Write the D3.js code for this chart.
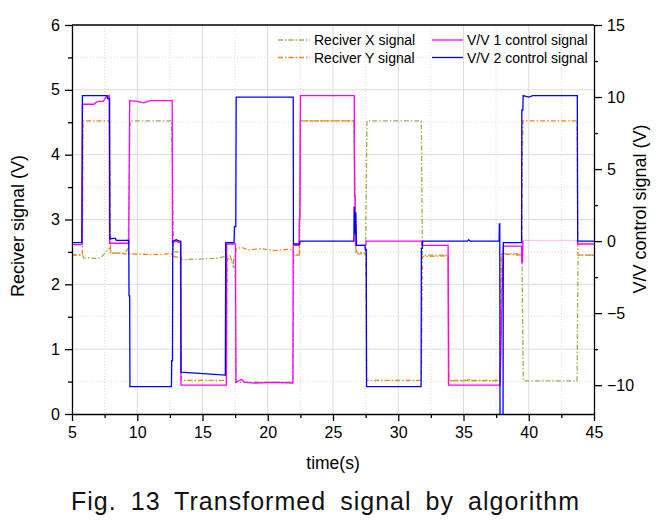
<!DOCTYPE html>
<html>
<head>
<meta charset="utf-8">
<script src="https://cdn.jsdelivr.net/npm/d3@7"></script>
<style>
  body { margin: 0; background: #fff; }
  svg { display: block; font-family: "Liberation Sans", Arial, sans-serif; }
</style>
</head>
<body>
<svg id="chart" width="662" height="526"></svg>
<script>
// ---- data (time in s, values in V) ----
const xTicks = [5, 10, 15, 20, 25, 30, 35, 40, 45];
const xMinor = [7.5, 12.5, 17.5, 22.5, 27.5, 32.5, 37.5, 42.5];
const yLeftTicks = [0, 1, 2, 3, 4, 5, 6];
const yLeftMinor = [0.5, 1.5, 2.5, 3.5, 4.5, 5.5];
const yRightTicks = [-10, -5, 0, 5, 10, 15];
const yRightMinor = [-7.5, -2.5, 2.5, 7.5, 12.5];

const seriesNames = ["Reciver X signal", "Reciver Y signal", "V/V 1 control signal", "V/V 2 control signal"];

// Reciver X signal (left axis)
const tX = [5.0, 5.8, 5.9, 7.0, 7.3, 7.6, 7.85, 8.1, 9.0, 9.3, 9.45, 12.62, 12.72, 12.78, 13.3, 13.4, 16.0, 16.8, 17.1, 17.35, 17.5, 17.58, 21.93, 22.0, 22.42, 22.5, 26.6, 26.75, 27.5, 27.6, 31.77, 31.85, 33.82, 33.88, 37.78, 37.9, 39.48, 39.58, 43.7, 43.78, 45.0];
const vX = [2.45, 2.45, 2.41, 2.40, 2.43, 2.50, 2.56, 2.48, 2.48, 2.55, 4.52, 4.52, 3.5, 2.50, 2.50, 2.38, 2.40, 2.43, 2.45, 2.27, 2.27, 0.49, 0.49, 2.45, 2.45, 4.52, 4.52, 2.47, 2.47, 4.52, 4.52, 2.45, 2.45, 0.51, 0.51, 2.47, 2.47, 0.51, 0.51, 2.45, 2.45];

// Reciver Y signal (left axis)
const tY = [5.0, 5.8, 5.85, 7.88, 7.95, 8.4, 9.0, 11.5, 12.6, 12.9, 13.3, 13.38, 16.83, 16.9, 17.2, 17.35, 17.6, 18.0, 18.5, 19.5, 20.5, 21.5, 21.9, 22.0, 22.42, 22.5, 26.6, 26.7, 26.78, 27.5, 27.58, 31.77, 31.85, 33.82, 33.88, 35.3, 35.4, 35.5, 37.78, 37.85, 37.95, 39.48, 39.5, 39.56, 43.7, 43.77, 45.0];
const vY = [2.45, 2.46, 4.52, 4.52, 2.47, 2.49, 2.47, 2.46, 2.47, 2.42, 2.42, 0.52, 0.52, 2.40, 2.38, 2.33, 2.55, 2.57, 2.53, 2.55, 2.52, 2.54, 2.53, 2.45, 2.45, 4.52, 4.52, 3.2, 2.50, 2.48, 0.52, 0.52, 2.43, 2.44, 0.52, 0.52, 0.55, 0.52, 0.52, 0.9, 2.47, 2.45, 3.9, 4.52, 4.52, 2.45, 2.45];

// V/V 1 control signal (right axis)
const t1 = [5.0, 5.78, 5.8, 6.7, 6.8, 7.0, 7.4, 7.6, 7.85, 7.88, 9.35, 9.37, 9.42, 10.0, 10.5, 11.0, 12.68, 12.7, 13.0, 13.2, 13.33, 13.35, 16.83, 16.85, 17.53, 17.56, 18.0, 18.2, 19.0, 20.5, 21.93, 21.95, 22.4, 22.42, 22.47, 22.5, 26.63, 26.65, 26.7, 26.72, 27.5, 27.55, 31.77, 31.8, 33.82, 33.85, 37.78, 37.8, 38.05, 39.45, 39.47, 39.52, 39.55, 43.72, 43.75, 45.0];
const v1 = [-0.25, -0.25, 9.5, 9.5, 9.6, 9.7, 9.7, 10.0, 10.1, -0.15, -0.15, 3.0, 9.75, 9.7, 9.6, 9.75, 9.75, -0.1, 0.0, -0.1, -0.1, -10.0, -10.0, -0.2, -0.2, -9.8, -9.6, -9.8, -9.85, -9.8, -9.85, -0.3, -0.3, 1.6, 1.6, 10.1, 10.1, 3.1, 3.1, -0.3, -0.3, 0.0, 0.0, -0.3, -0.3, -10.0, -10.0, -10.0, -0.35, -0.35, -1.5, -1.5, 0.05, 0.05, -0.2, -0.2];
// faint stretch of V/V 1 in the reference
const faint1 = [39.55, 43.72];

// V/V 2 control signal (right axis)
const t2 = [5.0, 5.75, 5.8, 7.7, 7.72, 7.88, 7.9, 8.3, 8.4, 9.35, 9.37, 9.42, 9.44, 12.62, 12.64, 12.7, 12.72, 13.0, 13.2, 13.33, 13.35, 16.75, 16.78, 17.42, 17.45, 17.55, 17.58, 21.95, 21.97, 22.45, 22.48, 26.6, 26.62, 26.7, 26.75, 26.8, 27.45, 27.47, 27.55, 27.57, 31.75, 31.77, 31.85, 31.87, 35.3, 35.4, 35.5, 37.73, 37.75, 37.78, 37.8, 38.03, 38.05, 39.45, 39.47, 39.55, 39.57, 40.0, 40.3, 43.72, 43.75, 45.0];
const v2 = [-0.1, -0.1, 10.1, 10.1, 9.9, 9.9, 0.15, 0.2, 0.05, 0.05, -3.8, -3.8, -10.1, -10.1, -8.3, -8.3, 0.0, 0.1, 0.0, 0.0, -9.1, -9.3, -0.1, -0.1, 1.0, 1.0, 10.0, 10.0, -0.2, -0.2, 0.0, 0.0, 2.4, 0.5, 2.0, -0.3, -0.3, -0.6, -0.6, -10.1, -10.1, -0.5, -0.5, 0.0, 0.0, 0.1, 0.0, 0.0, 1.2, 1.2, -12.5, -12.5, -0.1, -0.1, 9.1, 9.1, 10.1, 10.0, 10.1, 10.1, 0.0, 0.0];

const colors = ["#a8a850", "#ff7f10", "#ff00ff", "#0000ff"];

// ---- layout ----
const L = 72, R = 594, T = 25, B = 414;
const svg = d3.select("#chart");
const x = d3.scaleLinear().domain([5, 45]).range([L, R]);
const yL = d3.scaleLinear().domain([0, 6]).range([B, T]);
const yR = d3.scaleLinear().domain([-12, 15]).range([B, T]);

svg.append("defs").append("clipPath").attr("id", "plotclip")
  .append("rect").attr("x", L).attr("y", T).attr("width", R - L).attr("height", B - T);

// grid
const grid = svg.append("g");
grid.selectAll(".vmaj").data(xTicks.filter(d => d > 5 && d < 45)).join("line")
  .attr("x1", d => x(d)).attr("x2", d => x(d)).attr("y1", T).attr("y2", B)
  .attr("stroke", "#dcdcdc").attr("stroke-width", 1);
grid.selectAll(".vmin").data(xMinor).join("line")
  .attr("x1", d => x(d)).attr("x2", d => x(d)).attr("y1", T).attr("y2", B)
  .attr("stroke", "#d8d8d8").attr("stroke-width", 1).attr("stroke-dasharray", "1,2");
grid.selectAll(".hmaj").data(yLeftTicks.filter(d => d > 0 && d < 6)).join("line")
  .attr("x1", L).attr("x2", R).attr("y1", d => yL(d)).attr("y2", d => yL(d))
  .attr("stroke", "#dcdcdc").attr("stroke-width", 1);
grid.selectAll(".hmin").data(yLeftMinor).join("line")
  .attr("x1", L).attr("x2", R).attr("y1", d => yL(d)).attr("y2", d => yL(d))
  .attr("stroke", "#d8d8d8").attr("stroke-width", 1).attr("stroke-dasharray", "1,2");

// lines
const plot = svg.append("g").attr("clip-path", "url(#plotclip)");
const mk = (ts, vs) => ts.map((t, i) => [t, vs[i]]);
const lineL = d3.line().x(d => x(d[0])).y(d => yL(d[1]));
const lineR = d3.line().x(d => x(d[0])).y(d => yR(d[1]));
const dashDot = "5,2,1.5,2";

plot.append("path").attr("d", lineL(mk(tX, vX))).attr("fill", "none")
  .attr("stroke", colors[0]).attr("stroke-width", 1.3).attr("stroke-dasharray", dashDot);
plot.append("path").attr("d", lineL(mk(tY, vY))).attr("fill", "none")
  .attr("stroke", colors[1]).attr("stroke-width", 1.3).attr("stroke-dasharray", dashDot);

const pts1 = mk(t1, v1);
const seg1a = pts1.filter(d => d[0] <= faint1[0]);
const seg1b = pts1.filter(d => d[0] >= faint1[0] && d[0] <= faint1[1]);
const seg1c = pts1.filter(d => d[0] >= faint1[1]);
[seg1a, seg1c].forEach(s => plot.append("path").attr("d", lineR(s)).attr("fill", "none")
  .attr("stroke", colors[2]).attr("stroke-width", 1.3));
plot.append("path").attr("d", lineR(seg1b)).attr("fill", "none")
  .attr("stroke", colors[2]).attr("stroke-width", 1.3).attr("stroke-opacity", 0.25);

plot.append("path").attr("d", lineR(mk(t2, v2))).attr("fill", "none")
  .attr("stroke", colors[3]).attr("stroke-width", 1.3);

// axes
const fs = "16px";
function styleAxis(g) {
  g.selectAll("path.domain").attr("stroke", "#000").attr("stroke-width", 1.3);
  g.selectAll(".tick line").attr("stroke", "#000").attr("stroke-width", 1.3);
  g.selectAll("text").attr("font-size", fs).attr("fill", "#000")
    .attr("font-family", "'Liberation Sans', Arial, sans-serif");
}
const gxMin = svg.append("g").attr("transform", `translate(0,${B})`)
  .call(d3.axisBottom(x).tickValues(xMinor).tickSize(4).tickFormat(""));
gxMin.select(".domain").remove(); styleAxis(gxMin);
const gx = svg.append("g").attr("transform", `translate(0,${B})`)
  .call(d3.axisBottom(x).tickValues(xTicks).tickSize(7).tickPadding(6).tickSizeOuter(0).tickFormat(d3.format("d")));
styleAxis(gx);

const gyMin = svg.append("g").attr("transform", `translate(${L},0)`)
  .call(d3.axisLeft(yL).tickValues(yLeftMinor).tickSize(4).tickFormat(""));
gyMin.select(".domain").remove(); styleAxis(gyMin);
const gy = svg.append("g").attr("transform", `translate(${L},0)`)
  .call(d3.axisLeft(yL).tickValues(yLeftTicks).tickSize(7).tickPadding(5).tickSizeOuter(0).tickFormat(d3.format("d")));
styleAxis(gy);

const grMin = svg.append("g").attr("transform", `translate(${R},0)`)
  .call(d3.axisRight(yR).tickValues(yRightMinor).tickSize(4).tickFormat(""));
grMin.select(".domain").remove(); styleAxis(grMin);
const gr = svg.append("g").attr("transform", `translate(${R},0)`)
  .call(d3.axisRight(yR).tickValues(yRightTicks).tickSize(8).tickPadding(5).tickSizeOuter(0).tickFormat(d3.format("d")));
styleAxis(gr);

// top border
svg.append("line").attr("x1", L).attr("x2", R).attr("y1", T).attr("y2", T)
  .attr("stroke", "#000").attr("stroke-width", 1.3);

// axis titles
svg.append("text").attr("transform", `translate(24,226) rotate(-90)`)
  .attr("text-anchor", "middle").attr("font-size", "18px").attr("fill", "#000")
  .text("Reciver signal (V)");
svg.append("text").attr("transform", `translate(646,209) rotate(-90)`)
  .attr("text-anchor", "middle").attr("font-size", "18px").attr("fill", "#000")
  .text("V/V control signal (V)");
svg.append("text").attr("x", 333).attr("y", 469)
  .attr("text-anchor", "middle").attr("font-size", "17.5px").attr("fill", "#000")
  .text("time(s)");

// caption: slightly wider letters, moderately wider word gaps
const capText = "Fig. 13 Transformed signal by algorithm";
const cap = svg.append("text").attr("x", 71).attr("y", 510)
  .attr("font-size", "25px").attr("fill", "#111")
  .text(capText);
const natural = cap.node().getComputedTextLength();
const nSpaces = 5, wordSp = 6;
const letterSp = Math.max(0, (508 - natural - nSpaces * wordSp) / (capText.length - 1));
cap.attr("word-spacing", wordSp).attr("letter-spacing", letterSp);

// legend
const leg = svg.append("g");
const legItems = [
  { name: seriesNames[0], c: colors[0], dash: dashDot, x0: 278, x1: 310, tx: 314, y: 40 },
  { name: seriesNames[1], c: colors[1], dash: dashDot, x0: 278, x1: 310, tx: 314, y: 57.5 },
  { name: seriesNames[2], c: colors[2], dash: null, x0: 432, x1: 463, tx: 467, y: 40 },
  { name: seriesNames[3], c: colors[3], dash: null, x0: 432, x1: 463, tx: 467, y: 57.5 }
];
legItems.forEach(d => {
  leg.append("line").attr("x1", d.x0).attr("x2", d.x1).attr("y1", d.y).attr("y2", d.y)
    .attr("stroke", d.c).attr("stroke-width", 1.3)
    .attr("stroke-dasharray", d.dash);
  leg.append("text").attr("x", d.tx).attr("y", d.y + 5)
    .attr("font-size", "14px").attr("fill", "#000").text(d.name);
});
</script>
</body>
</html>
